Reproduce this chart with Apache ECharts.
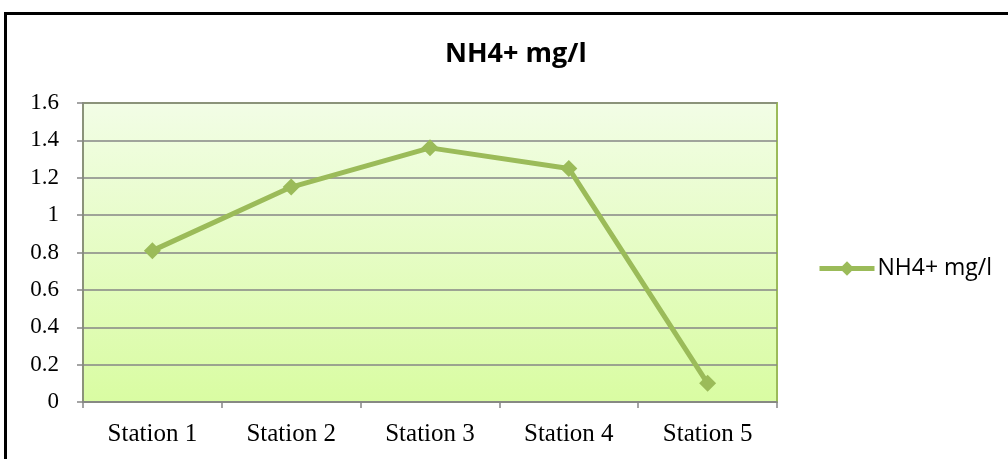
<!DOCTYPE html>
<html><head><meta charset="utf-8">
<script src="https://cdn.jsdelivr.net/npm/echarts@6/dist/echarts.min.js"></script>
<style>html,body{margin:0;padding:0;background:#fff}#c{width:1008px;height:459px}</style>
</head><body><div id="c"></div>
<script>
const categories = ['Station 1','Station 2','Station 3','Station 4','Station 5'];
const nh4Values = [0.81, 1.15, 1.36, 1.25, 0.10];
const seriesName = 'NH4+ mg/l';
const titleText = 'NH4+ mg/l';

const chart = echarts.init(document.getElementById('c'));
chart.setOption({
  animation: false,
  title: {
    text: titleText, left: 440, top: 36,
    textStyle: {fontFamily: 'Open Sans', fontWeight: 'bold', fontSize: 27, color: '#000'}
  },
  graphic: [{
    type: 'rect', silent: true, z: 100,
    shape: {x: 5.5, y: 13.5, width: 1010, height: 460},
    style: {fill: null, stroke: '#000', lineWidth: 3}
  }],
  legend: {
    left: 812, top: 252, itemWidth: 55, itemHeight: 18, itemGap: 4,
    data: [seriesName],
    lineStyle: {width: 5, color: '#9BBB59'},
    textStyle: {fontFamily: 'Open Sans', fontSize: 23, color: '#000', padding: [0, 0, 0, -2]}
  },
  grid: {
    left: 83, right: 231, top: 103, bottom: 57, show: true,
    borderColor: '#9BBB59', borderWidth: 2,
    backgroundColor: {type: 'linear', x: 0, y: 0, x2: 0, y2: 1,
      colorStops: [{offset: 0, color: '#F2FDE6'}, {offset: 1, color: '#D9FCA2'}]}
  },
  xAxis: {
    type: 'category', data: categories, boundaryGap: true,
    axisLine: {lineStyle: {color: '#868686', width: 1.5}},
    axisTick: {show: true, length: 6, inside: false, alignWithLabel: false, lineStyle: {color: '#868686', width: 1.5}},
    axisLabel: {fontFamily: 'Liberation Serif', fontSize: 25, color: '#000', margin: 20}
  },
  yAxis: {
    type: 'value', min: 0, max: 1.6, interval: 0.2,
    axisLine: {show: true, lineStyle: {color: '#868686', width: 1.5}},
    axisTick: {show: true, length: 6, lineStyle: {color: '#868686', width: 1.5}},
    splitLine: {lineStyle: {color: '#868686', width: 1.5}},
    axisLabel: {fontFamily: 'Liberation Serif', fontSize: 23, color: '#000', margin: 24,
      formatter: v => String(+v.toFixed(1))}
  },
  series: [{
    name: seriesName, type: 'line', data: nh4Values,
    symbol: 'diamond', symbolSize: 17,
    itemStyle: {color: '#9BBB59'},
    lineStyle: {color: '#9BBB59', width: 5}
  }]
});
</script></body></html>
